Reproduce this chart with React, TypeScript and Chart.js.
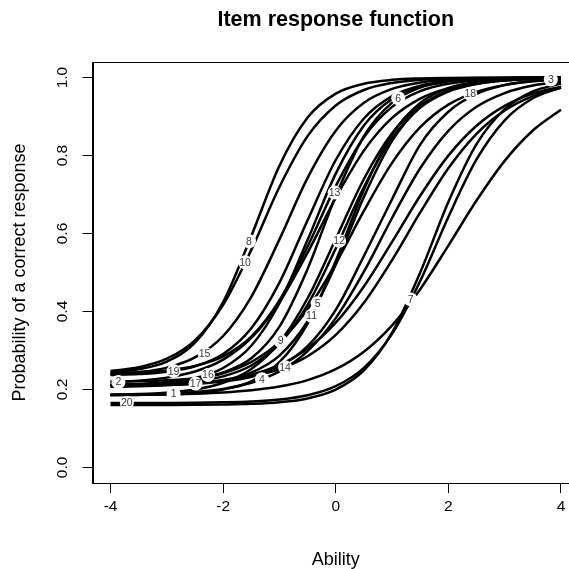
import { useEffect, useRef } from "react";
import { Chart, registerables } from "chart.js";

Chart.register(...registerables);

// Ability grid (x values of the sampled curves)
const theta = [-4, -3.5, -3, -2.5, -2, -1.5, -1, -0.5, 0, 0.5, 1, 1.5, 2, 2.5, 3, 3.5, 4];

// Probability of a correct response for each item
const item1 = [0.1857, 0.1863, 0.1873, 0.1891, 0.1922, 0.1978, 0.2074, 0.224, 0.2519, 0.2967, 0.3644, 0.4572, 0.5691, 0.6846, 0.7864, 0.8642, 0.9177];
const item2 = [0.2191, 0.2225, 0.2303, 0.246, 0.2765, 0.3322, 0.4238, 0.551, 0.6915, 0.8127, 0.8965, 0.9462, 0.973, 0.9867, 0.9935, 0.9968, 0.9985];
const item3 = [0.2104, 0.211, 0.2121, 0.2147, 0.2204, 0.2327, 0.2588, 0.311, 0.4043, 0.5423, 0.688, 0.8282, 0.9123, 0.958, 0.9806, 0.9912, 0.996];
const item4 = [0.1861, 0.1872, 0.1893, 0.1934, 0.2015, 0.2172, 0.2464, 0.2985, 0.383, 0.502, 0.6398, 0.7674, 0.8634, 0.925, 0.9603, 0.9795, 0.9895];
const item5 = [0.2104, 0.211, 0.2124, 0.2158, 0.224, 0.2433, 0.2869, 0.375, 0.5201, 0.694, 0.8377, 0.9246, 0.9674, 0.9863, 0.9944, 0.9977, 0.9991];
const item6 = [0.2205, 0.2213, 0.2234, 0.229, 0.2436, 0.2798, 0.3613, 0.5092, 0.6964, 0.8495, 0.9357, 0.9746, 0.9903, 0.9963, 0.9986, 0.9995, 0.9998];
const item7 = [0.1651, 0.1652, 0.1654, 0.1658, 0.1669, 0.1691, 0.1741, 0.185, 0.2082, 0.2553, 0.3424, 0.4783, 0.6426, 0.7899, 0.8904, 0.9469, 0.9753];
const item8 = [0.2444, 0.2519, 0.2715, 0.32, 0.4241, 0.5934, 0.774, 0.8976, 0.9588, 0.9843, 0.9942, 0.9978, 0.9992, 0.9997, 0.9999, 1.0, 1.0];
const item9 = [0.1864, 0.1881, 0.1918, 0.1999, 0.2172, 0.2526, 0.3205, 0.4339, 0.5861, 0.7399, 0.857, 0.9283, 0.9658, 0.9841, 0.9927, 0.9967, 0.9985];
const item10 = [0.2471, 0.2568, 0.2788, 0.326, 0.4168, 0.558, 0.7195, 0.8498, 0.9286, 0.9682, 0.9863, 0.9942, 0.9975, 0.999, 0.9996, 0.9998, 0.9999];
const item11 = [0.1854, 0.186, 0.1874, 0.1909, 0.1998, 0.221, 0.2698, 0.369, 0.5293, 0.7125, 0.8545, 0.9351, 0.9728, 0.9889, 0.9956, 0.9982, 0.9993];
const item12 = [0.2109, 0.2121, 0.2147, 0.2206, 0.2336, 0.2614, 0.3174, 0.4171, 0.5617, 0.7192, 0.845, 0.923, 0.964, 0.9836, 0.9927, 0.9967, 0.9986];
const item13 = [0.2417, 0.2444, 0.2489, 0.2602, 0.2847, 0.3353, 0.4281, 0.5668, 0.7215, 0.847, 0.9248, 0.9653, 0.9844, 0.9931, 0.997, 0.9987, 0.9994];
const item14 = [0.2111, 0.212, 0.2136, 0.2168, 0.2226, 0.2331, 0.2522, 0.2853, 0.34, 0.4224, 0.5318, 0.6541, 0.7676, 0.8559, 0.9157, 0.9526, 0.9739];
const item15 = [0.2389, 0.2441, 0.256, 0.2823, 0.3371, 0.4377, 0.585, 0.7428, 0.8638, 0.9352, 0.9709, 0.9873, 0.9945, 0.9976, 0.999, 0.9996, 0.9998];
const item16 = [0.2113, 0.2132, 0.2178, 0.2289, 0.255, 0.3121, 0.4212, 0.5837, 0.7537, 0.8772, 0.945, 0.9767, 0.9903, 0.996, 0.9984, 0.9994, 0.9997];
const item17 = [0.2067, 0.208, 0.2105, 0.2151, 0.2232, 0.2378, 0.263, 0.3052, 0.3712, 0.4643, 0.5785, 0.6969, 0.7998, 0.8765, 0.9275, 0.9587, 0.9769];
const item18 = [0.2121, 0.2141, 0.2182, 0.2261, 0.2415, 0.2704, 0.322, 0.4057, 0.5231, 0.6579, 0.7811, 0.8727, 0.9306, 0.9635, 0.9813, 0.9905, 0.9952];
const item19 = [0.2368, 0.2394, 0.2454, 0.2594, 0.291, 0.357, 0.4742, 0.6343, 0.7886, 0.895, 0.9523, 0.9794, 0.9913, 0.9963, 0.9985, 0.9994, 0.9997];
const item20 = [0.16, 0.1601, 0.1602, 0.1605, 0.1613, 0.163, 0.1671, 0.1769, 0.1995, 0.2488, 0.3456, 0.5001, 0.6809, 0.8291, 0.9192, 0.9643, 0.9847];

const items = [item1, item2, item3, item4, item5, item6, item7, item8, item9, item10,
  item11, item12, item13, item14, item15, item16, item17, item18, item19, item20];

// Item labels and where they sit on the curves
const itemNames = ["1", "2", "3", "4", "5", "6", "7", "8", "9", "10", "11", "12", "13", "14", "15", "16", "17", "18", "19", "20"];
const labelX = [-2.88, -3.86, 3.82, -1.31, -0.32, 1.11, 1.33, -1.54, -0.98, -1.61, -0.43, 0.06, -0.02, -0.9, -2.33, -2.27, -2.49, 2.39, -2.88, -3.71];
const labelY = [0.189, 0.219, 0.995, 0.226, 0.421, 0.947, 0.431, 0.58, 0.324, 0.526, 0.389, 0.581, 0.705, 0.257, 0.293, 0.237, 0.215, 0.958, 0.247, 0.165];

// Axes
const xTicks = [-4, -2, 0, 2, 4];
const yTicks = [0, 0.2, 0.4, 0.6, 0.8, 1.0];
const yTickLabels = ["0.0", "0.2", "0.4", "0.6", "0.8", "1.0"];
const chartTitle = "Item response function";
const xTitle = "Ability";
const yTitle = "Probability of a correct response";

const FONT = "'Liberation Sans', Arial, Helvetica, sans-serif";

export default function App() {
  const ref = useRef<HTMLCanvasElement>(null);

  useEffect(() => {
    const canvas = ref.current;
    if (!canvas) return;

    const extras = {
      id: "extras",
      afterDraw(chart: any) {
        const { ctx, chartArea: a, scales } = chart;
        ctx.save();
        // plot box
        ctx.strokeStyle = "#000";
        ctx.lineWidth = 1;
        ctx.strokeRect(Math.round(a.left) + 0.5, Math.round(a.top) + 0.5, a.right - a.left, Math.round(a.bottom) - Math.round(a.top));

        // item labels
        ctx.font = `10.5px ${FONT}`;
        ctx.textAlign = "center";
        ctx.textBaseline = "middle";
        labelX.forEach((lx, i) => {
          const px = scales.x.getPixelForValue(lx);
          const py = scales.y.getPixelForValue(labelY[i]);
          ctx.fillStyle = "#fff";
          ctx.beginPath();
          ctx.arc(px, py, 7, 0, Math.PI * 2);
          ctx.fill();
          ctx.fillStyle = "#3a3a3a";
          ctx.fillText(itemNames[i], px, py + 0.5);
        });

        // y tick labels (rotated, as in R)
        ctx.fillStyle = "#000";
        ctx.font = `15.5px ${FONT}`;
        yTicks.forEach((v, i) => {
          const py = scales.y.getPixelForValue(v);
          ctx.save();
          ctx.translate(63, py);
          ctx.rotate(-Math.PI / 2);
          ctx.textAlign = "center";
          ctx.textBaseline = "middle";
          ctx.fillText(yTickLabels[i], 0, 0);
          ctx.restore();
        });

        // main title
        ctx.font = `bold 21.5px ${FONT}`;
        ctx.textAlign = "center";
        ctx.textBaseline = "middle";
        ctx.fillText(chartTitle, (a.left + a.right) / 2, 20);
        ctx.restore();
      },
    };

    const chart = new Chart(canvas, {
      type: "line",
      data: {
        datasets: items.map((vals, i) => ({
          label: "Item " + itemNames[i],
          data: theta.map((t, j) => ({ x: t, y: vals[j] })),
          borderColor: "#000",
          borderWidth: 2.5,
          pointRadius: 0,
          fill: false,
          cubicInterpolationMode: "monotone" as const,
        })),
      },
      options: {
        responsive: false,
        animation: false,
        devicePixelRatio: 1,
        layout: { padding: { top: 62, left: 0, right: 21, bottom: 0 } },
        plugins: {
          legend: { display: false },
          tooltip: { enabled: false },
          title: { display: false },
        },
        scales: {
          x: {
            type: "linear",
            min: -4.32,
            max: 4.32,
            afterBuildTicks: (s: any) => {
              s.ticks = xTicks.map((v) => ({ value: v }));
            },
            afterFit: (s: any) => {
              s.height = 86;
            },
            grid: { drawOnChartArea: false, drawTicks: true, tickLength: 10, color: "#000", lineWidth: 1 },
            border: { display: true, color: "#000", width: 1 },
            ticks: {
              color: "#000",
              font: { family: FONT, size: 15.5 },
              padding: 4,
              maxRotation: 0,
              minRotation: 0,
              callback: (v: any) => String(v),
            },
            title: {
              display: true,
              text: xTitle,
              color: "#000",
              font: { family: FONT, size: 18, lineHeight: 1 },
              padding: { top: 0, bottom: 0 },
            },
          },
          y: {
            type: "linear",
            min: -0.04,
            max: 1.04,
            afterBuildTicks: (s: any) => {
              s.ticks = yTicks.map((v) => ({ value: v }));
            },
            afterFit: (s: any) => {
              s.width = 92.5;
            },
            grid: { drawOnChartArea: false, drawTicks: true, tickLength: 10, color: "#000", lineWidth: 1 },
            border: { display: true, color: "#000", width: 1 },
            ticks: { display: false },
            title: {
              display: true,
              text: yTitle,
              color: "#000",
              font: { family: FONT, size: 18, lineHeight: 1 },
              padding: { top: 11, bottom: 0 },
            },
          },
        },
      },
      plugins: [extras],
    });

    return () => chart.destroy();
  }, []);

  return (
    <div style={{ position: "fixed", left: 0, top: 0, width: 569, height: 569, overflow: "hidden", background: "#fff" }}>
      <canvas ref={ref} width={600} height={569} style={{ display: "block", width: 600, height: 569 }} />
    </div>
  );
}
